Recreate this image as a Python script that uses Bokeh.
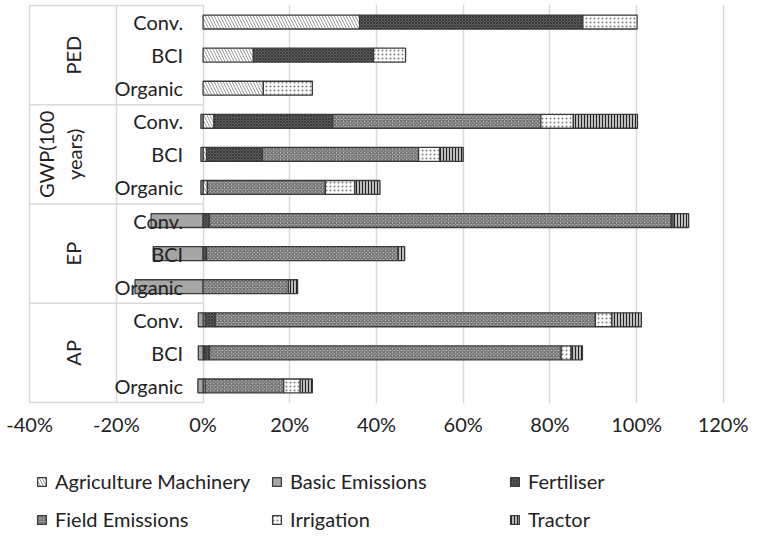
import numpy as np
from bokeh.plotting import figure
from bokeh.layouts import column
from bokeh.models import (Range1d, FixedTicker, NumeralTickFormatter, Legend,
                          LegendItem, ColumnDataSource)
from bokeh.core.properties import value
from bokeh.embed import file_html
from bokeh.resources import INLINE

# ---------------- data (percent of conventional) ----------------
groups = ["PED", "GWP(100 years)", "EP", "AP"]
systems = ["Conv.", "BCI", "Organic"]
x_ticks = [-0.4, -0.2, 0.0, 0.2, 0.4, 0.6, 0.8, 1.0, 1.2]

# rows: PED Conv, PED BCI, PED Org, GWP Conv, GWP BCI, GWP Org,
#       EP Conv, EP BCI, EP Org, AP Conv, AP BCI, AP Org
agriculture_machinery = [36.1, 11.6, 13.9, 2.5, 0.8, 1.0, 0, 0, 0, 0.5, 0.3, 0.5]
basic_emissions = [0, 0, 0, -0.5, -0.5, -0.5, -12.0, -11.5, -15.7, -1.1, -1.1, -1.2]
fertiliser = [51.5, 27.7, 0, 27.4, 12.9, 0, 1.5, 0.8, 0, 2.3, 1.2, 0]
field_emissions = [0, 0, 0, 48.0, 36.0, 27.2, 106.5, 44.2, 19.7, 87.7, 81.1, 18.1]
irrigation = [12.5, 7.4, 11.3, 7.5, 4.9, 6.8, 0.4, 0, 0, 3.8, 2.3, 3.8]
tractor = [0, 0, 0, 14.8, 5.4, 5.8, 3.6, 1.5, 2.1, 6.8, 2.6, 2.8]

series = [
    ("Agriculture Machinery", agriculture_machinery),
    ("Basic Emissions", basic_emissions),
    ("Fertiliser", fertiliser),
    ("Field Emissions", field_emissions),
    ("Irrigation", irrigation),
    ("Tractor", tractor),
]

styles = {
    "Agriculture Machinery": dict(fill_color="#ffffff", hatch_pattern="\\", hatch_color="#9a9a9a",
                                  hatch_scale=6, hatch_weight=1),
    "Basic Emissions": dict(fill_color="#a6a6a6"),
    "Fertiliser": dict(fill_color="#5e5e5e", hatch_pattern="x", hatch_color="#3a3a3a",
                       hatch_scale=3, hatch_weight=1),
    "Field Emissions": dict(fill_color="#bdbdbd", hatch_pattern="x", hatch_color="#555555",
                            hatch_scale=3.5, hatch_weight=1),
    "Irrigation": dict(fill_color="#ffffff", hatch_pattern=".", hatch_color="#7a7a7a",
                       hatch_scale=4, hatch_weight=2),
    "Tractor": dict(fill_color="#bdbdbd", hatch_pattern="|", hatch_color="#222222",
                    hatch_scale=3, hatch_weight=1),
}

FONT = "Lato"
TXT = "#222222"
GRID = "#d9d9d9"

n_rows = len(groups) * len(systems)
y_centers = np.arange(n_rows)[::-1] + 0.5

p = figure(width=748, height=452,
           x_range=Range1d(-0.405, 1.205), y_range=Range1d(-0.03, n_rows + 0.03),
           output_backend="svg", toolbar_location=None, y_axis_location=None,
           min_border_left=27, min_border_right=23, min_border_top=4,
           min_border_bottom=49)
p.outline_line_color = None
p.background_fill_color = "white"

p.xaxis.ticker = FixedTicker(ticks=x_ticks)
p.xaxis.formatter = NumeralTickFormatter(format="0%")
p.xaxis.axis_line_color = None
p.xaxis.major_tick_line_color = None
p.xaxis.minor_tick_line_color = None
p.xaxis.major_label_text_font = FONT
p.xaxis.major_label_text_font_size = "20px"
p.xaxis.major_label_text_color = TXT
p.xaxis.major_label_standoff = 2
p.xgrid.grid_line_color = GRID
p.xgrid.grid_line_width = 1.5
p.ygrid.visible = False

# group separators in the label area
bounds = [len(systems) * k for k in range(len(groups) + 1)]
p.segment(x0=[x_ticks[0]] * len(bounds), x1=[0] * len(bounds), y0=bounds, y1=bounds,
          line_color=GRID, line_width=1.5)

# stacked bars (positives stack right, negatives stack left)
pos = np.zeros(n_rows)
neg = np.zeros(n_rows)
bar_h = 0.42
for name, vals in series:
    v = np.array(vals, dtype=float) / 100.0
    left = np.where(v >= 0, pos, neg + v)
    right = np.where(v >= 0, pos + v, neg)
    pos = np.where(v >= 0, pos + v, pos)
    neg = np.where(v < 0, neg + v, neg)
    m = v != 0
    src = ColumnDataSource(dict(y=y_centers[m], left=left[m], right=right[m]))
    p.hbar(y="y", left="left", right="right", height=bar_h, source=src,
           line_color="#3a3a3a", line_width=1.3, **styles[name])

# category labels
cat_labels = [s for g in groups for s in systems]
p.text(x=[-0.046] * n_rows, y=y_centers, text=cat_labels, text_font=value(FONT),
       text_font_size="20px", text_color=TXT, text_align="right", text_baseline="middle")

# group labels (rotated)
for gi, g in enumerate(groups):
    yc = n_rows - len(systems) * gi - len(systems) / 2
    if " " in g:
        a, b = g.split(" ", 1)
        p.text(x=[-0.362, -0.298], y=[yc, yc], text=[a, b], text_font=value(FONT),
               text_font_size="20px", text_color=TXT, text_align="center",
               text_baseline="middle", angle=np.pi / 2)
    else:
        p.text(x=[-0.300], y=[yc], text=[g], text_font=value(FONT),
               text_font_size="20px", text_color=TXT, text_align="center",
               text_baseline="middle", angle=np.pi / 2)

# ---------------- legend strip ----------------
lf = figure(width=748, height=79, x_range=Range1d(0, 1), y_range=Range1d(0, 1),
            output_backend="svg", toolbar_location=None,
            x_axis_location=None, y_axis_location=None, min_border=0)
lf.outline_line_color = None
lf.grid.visible = False
leg_r = {}
for name, _ in series:
    # geometry-less bar per series: only its legend swatch is visible
    leg_r[name] = lf.hbar(y=[np.nan], left=[np.nan], right=[np.nan], height=0.5,
                          line_color="#3a3a3a", line_width=1.3, **styles[name])

cols = [["Agriculture Machinery", "Field Emissions"],
        ["Basic Emissions", "Irrigation"],
        ["Fertiliser", "Tractor"]]
col_x = [9, 244, 482]
for cx, names in zip(col_x, cols):
    leg = Legend(items=[LegendItem(label=nm, renderers=[leg_r[nm]]) for nm in names],
                 location=(cx, 0), orientation="vertical",
                 label_text_font=FONT, label_text_font_size="20px",
                 label_text_color=TXT, glyph_width=11, glyph_height=11,
                 label_height=20, label_standoff=8, spacing=14, padding=0,
                 margin=0, border_line_alpha=0, background_fill_alpha=0)
    lf.add_layout(leg, "center")

open("out.html", "w").write(file_html(column(p, lf, spacing=0), INLINE))
